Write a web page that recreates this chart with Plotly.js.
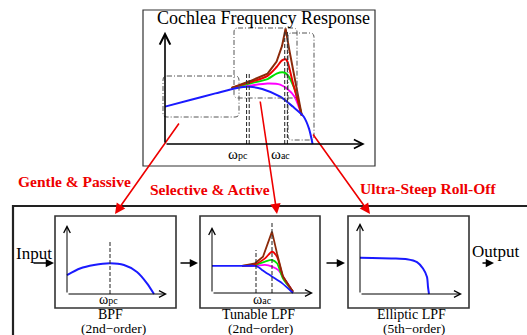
<!DOCTYPE html>
<html><head><meta charset="utf-8">
<script src="https://cdn.plot.ly/plotly-3.0.1.min.js"></script>
<style>html,body{margin:0;padding:0;background:#fff}#chart{width:527px;height:335px}</style>
</head><body><div id="chart"></div>
<script>
// ---- Data: top "Cochlea Frequency Response" (arbitrary freq / gain units)
const cochleaBlueX  = [0, 1.4, 2.8, 4.0, 4.7, 5.4, 6.4, 7.1, 7.7, 8.0, 8.2];
const cochleaBlueY  = [3.4, 4.0, 4.6, 5.1, 5.2, 5.0, 4.3, 3.4, 2.5, 1.4, 0];
const cochleaMagX   = [3.7, 4.7, 5.7, 6.4, 6.8, 7.2, 7.6];
const cochleaMagY   = [5.1, 5.3, 5.5, 5.4, 5.0, 4.3, 2.6];
const cochleaGreenX = [3.7, 4.7, 5.7, 6.2, 6.6, 6.8, 7.2, 7.6];
const cochleaGreenY = [5.1, 5.5, 5.9, 6.4, 6.5, 6.3, 5.0, 2.6];
const cochleaRedX   = [3.7, 4.7, 5.7, 6.2, 6.5, 6.7, 6.8, 7.1, 7.6];
const cochleaRedY   = [5.1, 5.6, 6.2, 7.0, 7.6, 7.7, 7.5, 5.6, 2.6];
const cochleaBrownX = [3.7, 4.7, 5.7, 6.2, 6.5, 6.7, 6.9, 7.2, 7.6];
const cochleaBrownY = [5.1, 5.7, 6.4, 7.5, 8.9, 10.5, 8.6, 5.9, 2.6];
const cochleaWpc = 4.6, cochleaWac = 6.72;

// ---- Data: BPF (2nd-order)
const bpfX = [0, 1.3, 2.7, 4.3, 5.7, 7.0, 8.0, 8.7];
const bpfY = [2.75, 3.7, 4.2, 4.45, 4.2, 3.2, 1.55, 0];
const bpfWpc = 4.3;

// ---- Data: Tunable LPF (2nd-order)
const lpfBlueX  = [0, 3.0, 4.3, 4.7, 5.0, 6.0, 7.0, 8.1];
const lpfBlueY  = [4.1, 4.1, 4.1, 3.85, 3.5, 2.5, 1.5, 0];
const lpfMagX   = [3.0, 4.3, 5.3, 6.0, 6.6, 7.3, 8.1];
const lpfMagY   = [4.1, 4.1, 4.25, 4.0, 3.5, 2.0, 0.2];
const lpfGreenX = [3.0, 4.3, 5.3, 6.0, 6.5, 7.1, 8.1];
const lpfGreenY = [4.1, 4.25, 4.75, 5.0, 4.5, 2.2, 0.2];
const lpfRedX   = [3.0, 4.3, 5.3, 6.0, 6.5, 7.1, 8.1];
const lpfRedY   = [4.1, 4.35, 5.25, 6.25, 5.5, 2.5, 0.2];
const lpfBrownX = [3.0, 4.3, 5.1, 5.6, 6.0, 6.5, 7.1, 8.1];
const lpfBrownY = [4.1, 4.5, 5.5, 7.5, 9.3, 6.0, 2.5, 0.2];
const lpfWpc = 4.4, lpfWac = 6.0;

// ---- Data: Elliptic LPF (5th-order)
const ellX = [0, 3.3, 4.7, 5.7, 6.3, 6.7, 6.8, 6.9];
const ellY = [5.1, 5.0, 4.9, 4.5, 3.6, 2.4, 1.0, 0];

// ---- Labels
const titleText = 'Cochlea Frequency Response';
const redLabels = ['Gentle &amp; Passive', 'Selective &amp; Active', 'Ultra-Steep Roll-Off'];
const blockNames = ['BPF', 'Tunable LPF', 'Elliptic LPF'];
const blockOrders = ['(2nd\u2212order)', '(2nd\u2212order)', '(5th\u2212order)'];
const freqLabels = ['pc', 'ac'];

// ---- Layout helpers (pixel -> paper)
const W = 527, H = 335;
const P = x => x / W, Q = y => 1 - y / H;
const SERIF = 'Liberation Serif, Times New Roman, serif';
const BLUE = '#1a1aff', BROWN = '#8c2a0a', RED = '#ee0000', GREEN = '#00e000', MAG = '#ff00ff';

function axPair(n, ox, oy, kx, ky, xr, yr) {
  const o = {};
  o['xaxis' + n] = {domain: [P(ox + xr[0] * kx), P(ox + xr[1] * kx)], range: xr, anchor: 'y' + n,
    visible: false, fixedrange: true};
  o['yaxis' + n] = {domain: [Q(oy - yr[0] * ky), Q(oy - yr[1] * ky)], range: yr, anchor: 'x' + n,
    visible: false, fixedrange: true};
  return o;
}
function rr(x0, y0, x1, y1, r) {
  const f = (x, y) => P(x) + ',' + Q(y);
  return 'M' + f(x0 + r, y0) + ' L' + f(x1 - r, y0) + ' Q' + f(x1, y0) + ' ' + f(x1, y0 + r) +
    ' L' + f(x1, y1 - r) + ' Q' + f(x1, y1) + ' ' + f(x1 - r, y1) +
    ' L' + f(x0 + r, y1) + ' Q' + f(x0, y1) + ' ' + f(x0, y1 - r) +
    ' L' + f(x0, y0 + r) + ' Q' + f(x0, y0) + ' ' + f(x0 + r, y0) + ' Z';
}
function line(n, x, y, color, w, smooth) {
  return {x: x, y: y, xaxis: 'x' + n, yaxis: 'y' + n, mode: 'lines', hoverinfo: 'skip',
    line: {color: color, width: w, shape: smooth ? 'spline' : 'linear', smoothing: 0.7}};
}

const traces = [
  line(2, cochleaMagX, cochleaMagY, MAG, 2, true),
  line(2, cochleaGreenX, cochleaGreenY, GREEN, 2, true),
  line(2, cochleaRedX, cochleaRedY, RED, 2, true),
  line(2, cochleaBrownX, cochleaBrownY, BROWN, 2, false),
  line(2, cochleaBlueX, cochleaBlueY, BLUE, 2, true),
  line(3, bpfX, bpfY, BLUE, 2, true),
  line(4, lpfMagX, lpfMagY, MAG, 1.8, true),
  line(4, lpfGreenX, lpfGreenY, GREEN, 1.8, true),
  line(4, lpfRedX, lpfRedY, RED, 1.8, true),
  line(4, lpfBrownX, lpfBrownY, BROWN, 1.8, false),
  line(4, lpfBlueX, lpfBlueY, BLUE, 1.8, true),
  line(5, ellX, ellY, BLUE, 2, true)
];

const layout = Object.assign({
  width: W, height: H, margin: {l: 0, r: 0, t: 0, b: 0},
  paper_bgcolor: '#fff', plot_bgcolor: 'rgba(0,0,0,0)', showlegend: false,
  xaxis: {visible: false, range: [0, 1], domain: [0, 1], fixedrange: true},
  yaxis: {visible: false, range: [0, 1], domain: [0, 1], fixedrange: true}
},
  axPair(2, 165, 144, 18, 11, [-0.5, 11.4], [-0.4, 11.2]),
  axPair(3, 67, 294, 10, 6.9, [-0.5, 10.5], [-0.4, 10.4]),
  axPair(4, 212, 293, 10, 6.6, [-0.5, 10.5], [-0.4, 11]),
  axPair(5, 360, 294, 10, 7.1, [-0.5, 10.5], [-0.4, 10.4])
);

const shapes = [];
const box = (x0, y0, x1, y1, w, c) => shapes.push({type: 'rect', xref: 'paper', yref: 'paper',
  x0: P(x0), x1: P(x1), y0: Q(y1), y1: Q(y0), line: {color: c, width: w}});
box(143, 10, 375, 166, 1.2, '#333');
box(13, 206, 545, 350, 2.2, '#222');
box(55, 216, 176, 308, 1.6, '#333');
box(200, 216, 320, 308, 1.6, '#333');
box(348, 216, 469, 308, 1.6, '#333');
[[163, 76, 239, 117], [234, 28, 297, 98], [288, 33, 314, 140]].forEach(b => shapes.push({
  type: 'path', xref: 'paper', yref: 'paper', path: rr(b[0], b[1], b[2], b[3], 4),
  line: {color: '#555', width: 1, dash: '5px,2px,1px,2px'}}));
const vdash = (n, x, ytop) => shapes.push({type: 'line', xref: 'x' + n, yref: 'y' + n,
  x0: x, x1: x, y0: 0, y1: ytop, line: {color: '#333', width: 1.1, dash: '4px,2px'}});
vdash(2, cochleaWpc - 0.07, 6.55); vdash(2, cochleaWpc + 0.08, 6.55);
vdash(2, cochleaWac - 0.07, 10.3); vdash(2, cochleaWac + 0.08, 10.3);
vdash(3, bpfWpc, 7.8);
vdash(4, lpfWpc, 6.5); vdash(4, lpfWac, 10.6);
layout.shapes = shapes;

const ann = [];
const txt = (x, y, t, size, color, bold) => ann.push({xref: 'paper', yref: 'paper', x: P(x), y: Q(y),
  text: bold ? '<b>' + t + '</b>' : t, showarrow: false, xanchor: 'center', yanchor: 'middle',
  font: {family: SERIF, size: size, color: color || '#000'}});
const omega = s => '\u03c9<span style="font-size:10px">' + s + '</span>';
txt(263, 18, titleText, 18);
txt(74, 181, redLabels[0], 15.5, RED, true);
txt(210, 189, redLabels[1], 15.5, RED, true);
txt(428, 188, redLabels[2], 15.5, RED, true);
txt(34, 254, 'Input', 17);
txt(496, 251, 'Output', 17);
[[110, 314, 113, 328], [258, 314, 260, 328], [411, 314, 414, 328]].forEach((p, i) => {
  txt(p[0], p[1], blockNames[i], 14); txt(p[2], p[3], blockOrders[i], 13.5);
});
txt(238, 154, omega(freqLabels[0]), 15);
txt(280, 154, omega(freqLabels[1]), 15);
txt(108, 299.5, omega(freqLabels[0]), 14);
txt(262, 299.5, omega(freqLabels[1]), 14);

// arrows in pixel space: head (hx,hy), tail (tx,ty)
const arr = (hx, hy, tx, ty, color, w, head, size) => ann.push({xref: 'paper', yref: 'paper',
  x: P(hx), y: Q(hy), ax: tx - hx, ay: ty - hy, axref: 'pixel', ayref: 'pixel', text: '',
  showarrow: true, arrowhead: head, arrowsize: size, arrowwidth: w, arrowcolor: color, standoff: 0});
arr(115, 214, 180, 122, RED, 1.6, 2, 1.3);
arr(277, 214, 260, 100, RED, 1.6, 2, 1.3);
arr(370, 214, 312, 133, RED, 1.6, 2, 1.3);
arr(54, 263, 32, 263, '#000', 1.5, 2, 1.1);
arr(198, 263, 179, 263, '#000', 1.5, 2, 1.1);
arr(345, 263, 325, 263, '#000', 1.5, 2, 1.1);
arr(494, 263, 481, 263, '#000', 1.5, 2, 1.1);

// axis arrows in data space of each panel
const axArr = (n, hx, hy, w, size) => ann.push({xref: 'x' + n, yref: 'y' + n, axref: 'x' + n, ayref: 'y' + n,
  x: hx, y: hy, ax: 0, ay: 0, text: '', showarrow: true, arrowhead: 5, arrowsize: size,
  arrowwidth: w, arrowcolor: '#000', standoff: 0});
axArr(2, 0, 10.2, 1.6, 1.3); axArr(2, 11.1, 0, 1.6, 1.1);
axArr(3, 0, 10, 1, 1.3); axArr(3, 10, 0, 1, 1.3);
axArr(4, 0, 10, 1, 1.3); axArr(4, 10.1, 0, 1, 1.3);
axArr(5, 0, 10, 1, 1.3); axArr(5, 10.2, 0, 1, 1.3);
layout.annotations = ann;

Plotly.newPlot('chart', traces, layout, {staticPlot: true, displayModeBar: false});
</script></body></html>
